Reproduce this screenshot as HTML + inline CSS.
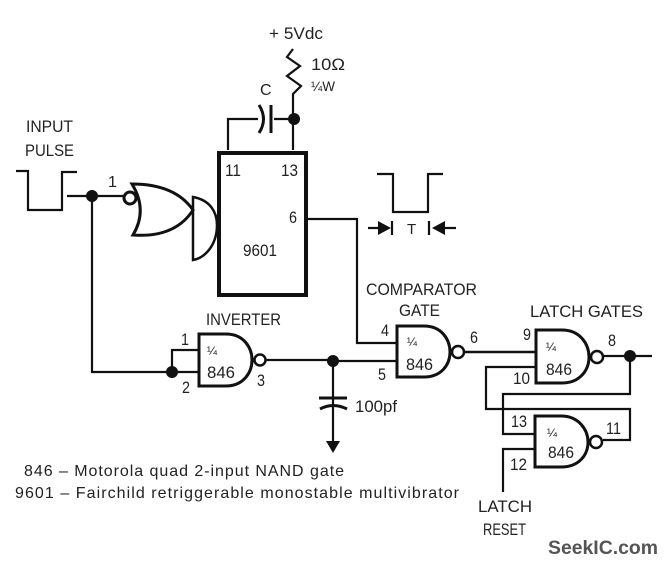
<!DOCTYPE html>
<html><head><meta charset="utf-8"><style>
html,body{margin:0;padding:0;background:#fff}
svg{display:block}
text{font-family:"Liberation Sans",sans-serif;fill:#222;font-size:17px}
.s{font-size:12px}
</style></head><body>
<svg width="668" height="565" viewBox="0 0 668 565" xmlns="http://www.w3.org/2000/svg">
<g fill="none" stroke="#111" stroke-width="2.2">
<!-- supply -->
<path d="M293,49L287,57L300,66L287,76L301,86L293,94V150"/>
<path d="M228,150V119H258M274,119H294"/>
<path d="M271,105V133" stroke-width="3"/>
<path d="M259,105Q268,119 259,133" stroke-width="3"/>
<!-- input pulse -->
<path d="M16,171H28V210H62V172H77"/>
<path d="M67,196H125M92,196V372H172V350H198M172,372H199"/>
<!-- 9601 -->
<rect x="219" y="153" width="87" height="142" stroke-width="4"/>
<!-- NOR -->
<path d="M132,184Q148,210 133,235Q175,238 193,210Q175,184 132,184Z" stroke-width="3"/>
<path d="M193,197C210,200 217,212 217,225C217,245 205,258 193,260Z" stroke-width="2.5" />
<circle cx="130" cy="198" r="6" stroke-width="3" fill="#fff"/>
<!-- inverter -->
<path d="M199,334H226C244,334 252,348 252,360C252,373 243,386 226,386H199Z" stroke-width="3"/>
<circle cx="260" cy="360" r="5.5" stroke-width="2.5"/>
<path d="M266,360H333V441"/>
<path d="M319,398H347" stroke-width="3"/>
<path d="M320,409Q333,402 347,409" stroke-width="3"/>
<!-- comparator -->
<path d="M307,219H357V343H397M333,361H397"/>
<path d="M397,326H424C442,326 450,340 450,352C450,365 441,377 424,377H397Z" stroke-width="3"/>
<circle cx="458" cy="352" r="6" stroke-width="2.5"/>
<path d="M464,352H536" stroke-width="2.5"/>
<!-- latch 1 -->
<path d="M536,330H562C580,330 589,344 589,357C589,370 580,383 562,383H536Z" stroke-width="3"/>
<circle cx="597" cy="357" r="6" stroke-width="2.5"/>
<path d="M603,356H652M630,356V394H503V434H535"/>
<path d="M536,367H486V409H630V440H603"/>
<!-- latch 2 -->
<path d="M535,416H561C579,416 588,430 588,442C588,455 579,467 561,467H535Z" stroke-width="3"/>
<circle cx="596" cy="442" r="6" stroke-width="2.5"/>
<path d="M535,449H503V492"/>
<!-- pulse T -->
<path d="M377,174H393V212H428V174H443"/>
<path d="M368,228H380M392,221V235M429,221V235M444,228H456"/>
</g>
<g fill="#111">
<circle cx="294" cy="119" r="6"/>
<circle cx="92" cy="196" r="6"/>
<circle cx="172" cy="372" r="6"/>
<circle cx="333" cy="361" r="6"/>
<circle cx="630" cy="356" r="6"/>
<path d="M326,441H340L333,453Z"/>
<path d="M378,221L391,228L378,235Z"/>
<path d="M445,221L432,228L445,235Z"/>
</g>
<text x="269" y="39" textLength="54" lengthAdjust="spacingAndGlyphs">+ 5Vdc</text>
<text x="311" y="70" textLength="34" lengthAdjust="spacingAndGlyphs">10Ω</text>
<text x="311" y="91" style="font-size:14px" textLength="24" lengthAdjust="spacingAndGlyphs">¼W</text>
<text x="260" y="95" style="font-size:16px">C</text>
<text x="26" y="132" textLength="47" lengthAdjust="spacingAndGlyphs">INPUT</text>
<text x="25" y="156" textLength="49" lengthAdjust="spacingAndGlyphs">PULSE</text>
<text x="108" y="187" style="font-size:16px">1</text>
<text x="225" y="176" textLength="16" lengthAdjust="spacingAndGlyphs">11</text>
<text x="281" y="176" textLength="17" lengthAdjust="spacingAndGlyphs">13</text>
<text x="289" y="223" textLength="8" lengthAdjust="spacingAndGlyphs">6</text>
<text x="243" y="256" textLength="34" lengthAdjust="spacingAndGlyphs">9601</text>
<text x="407" y="234" style="font-size:15px">T</text>
<text x="366" y="295" textLength="111" lengthAdjust="spacingAndGlyphs">COMPARATOR</text>
<text x="399" y="316" textLength="41" lengthAdjust="spacingAndGlyphs">GATE</text>
<text x="530" y="317" textLength="113" lengthAdjust="spacingAndGlyphs">LATCH GATES</text>
<text x="206" y="325" textLength="75" lengthAdjust="spacingAndGlyphs">INVERTER</text>
<text x="181" y="345" textLength="8" lengthAdjust="spacingAndGlyphs">1</text>
<text x="182" y="393" textLength="8" lengthAdjust="spacingAndGlyphs">2</text>
<text x="257" y="386" textLength="8" lengthAdjust="spacingAndGlyphs">3</text>
<text x="207" y="355" class="s">¼</text>
<text x="207" y="378" textLength="28" lengthAdjust="spacingAndGlyphs">846</text>
<text x="381" y="336" textLength="8" lengthAdjust="spacingAndGlyphs">4</text>
<text x="378" y="380" textLength="8" lengthAdjust="spacingAndGlyphs">5</text>
<text x="407" y="346" class="s">¼</text>
<text x="406" y="370" textLength="27" lengthAdjust="spacingAndGlyphs">846</text>
<text x="470" y="343" textLength="8" lengthAdjust="spacingAndGlyphs">6</text>
<text x="523" y="340" textLength="8" lengthAdjust="spacingAndGlyphs">9</text>
<text x="608" y="346" textLength="8" lengthAdjust="spacingAndGlyphs">8</text>
<text x="513" y="384" textLength="17" lengthAdjust="spacingAndGlyphs">10</text>
<text x="546" y="351" class="s">¼</text>
<text x="546" y="375" textLength="26" lengthAdjust="spacingAndGlyphs">846</text>
<text x="511" y="427" textLength="16" lengthAdjust="spacingAndGlyphs">13</text>
<text x="606" y="434" textLength="15" lengthAdjust="spacingAndGlyphs">11</text>
<text x="510" y="470" textLength="17" lengthAdjust="spacingAndGlyphs">12</text>
<text x="547" y="437" class="s">¼</text>
<text x="548" y="458" textLength="26" lengthAdjust="spacingAndGlyphs">846</text>
<text x="355" y="412" textLength="42" lengthAdjust="spacingAndGlyphs">100pf</text>
<text x="24" y="476" textLength="320" lengthAdjust="spacing" style="font-size:16px">846 – Motorola quad 2-input NAND gate</text>
<text x="15" y="498" textLength="444" lengthAdjust="spacing" style="font-size:16px">9601 – Fairchild retriggerable monostable multivibrator</text>
<text x="478" y="512" textLength="54" lengthAdjust="spacingAndGlyphs">LATCH</text>
<text x="483" y="535" textLength="43" lengthAdjust="spacingAndGlyphs">RESET</text>
<text x="548" y="554" textLength="110" lengthAdjust="spacingAndGlyphs" style="font-size:19px;font-weight:bold;fill:#555">SeekIC.com</text>
</svg>
</body></html>
